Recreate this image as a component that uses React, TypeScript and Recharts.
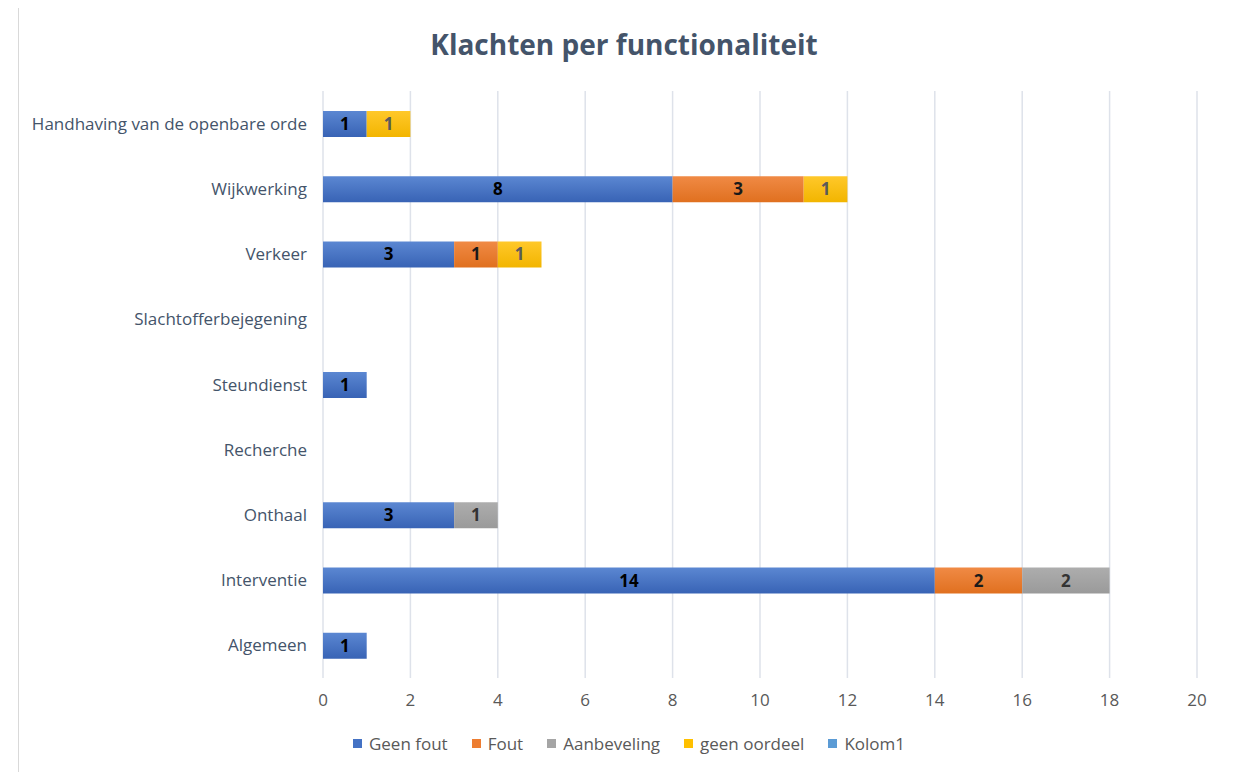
import React from "react";
import { BarChart, Bar, XAxis, YAxis, CartesianGrid, Legend, LabelList } from "recharts";

const categories = [
  "Handhaving van de openbare orde",
  "Wijkwerking",
  "Verkeer",
  "Slachtofferbejegening",
  "Steundienst",
  "Recherche",
  "Onthaal",
  "Interventie",
  "Algemeen",
];
const geenFout = [1, 8, 3, null, 1, null, 3, 14, 1];
const fout = [null, 3, 1, null, null, null, null, 2, null];
const aanbeveling = [null, null, null, null, null, null, 1, 2, null];
const geenOordeel = [1, 1, 1, null, null, null, null, null, null];
const kolom1 = [null, null, null, null, null, null, null, null, null];
const xTicks = [0, 2, 4, 6, 8, 10, 12, 14, 16, 18, 20];

const data = categories.map((name, i) => ({
  name,
  geenFout: geenFout[i],
  fout: fout[i],
  aanbeveling: aanbeveling[i],
  geenOordeel: geenOordeel[i],
  kolom1: kolom1[i],
}));

const series = [
  { key: "geenFout", name: "Geen fout", color: "#4472C4", top: "#5B87D2", bottom: "#3863B5", label: "#000000" },
  { key: "fout", name: "Fout", color: "#ED7D31", top: "#F08A45", bottom: "#E0701F", label: "#1a1a1a" },
  { key: "aanbeveling", name: "Aanbeveling", color: "#A5A5A5", top: "#ADADAD", bottom: "#9A9A9A", label: "#333333" },
  { key: "geenOordeel", name: "geen oordeel", color: "#FFC000", top: "#FFC82A", bottom: "#F2B500", label: "#5a5a5a" },
  { key: "kolom1", name: "Kolom1", color: "#5B9BD5", top: "#5B9BD5", bottom: "#5B9BD5", label: "#000" },
];

const FONT = "'Open Sans', 'DejaVu Sans', sans-serif";

const makeLabel = (color: string) => (props: any) => {
  const { x, y, width, height, value } = props;
  if (value === null || value === undefined || value === 0) return null;
  return (
    <text
      x={x + width / 2}
      y={y + height / 2}
      dy={6}
      textAnchor="middle"
      fill={color}
      fontSize={17}
      fontWeight={700}
      fontFamily={FONT}
    >
      {value}
    </text>
  );
};

const LegendContent = () => (
  <div
    style={{
      display: "flex",
      justifyContent: "center",
      alignItems: "center",
      fontFamily: FONT,
      fontSize: 17,
      color: "#595959",
      gap: 24,
      paddingLeft: 42,
    }}
  >
    {series.map((s) => (
      <div key={s.key} style={{ display: "flex", alignItems: "center" }}>
        <span style={{ display: "inline-block", width: 9, height: 9, background: s.color, marginRight: 7 }} />
        <span>{s.name}</span>
      </div>
    ))}
  </div>
);

export default function App() {
  return (
    <div
      style={{
        position: "relative",
        width: 1210,
        height: 766,
        border: "1px solid #D9D9D9",
        marginLeft: 10,
        marginTop: -2,
        background: "#fff",
      }}
    >
      <div
        style={{
          position: "absolute",
          top: 18,
          left: 0,
          width: "100%",
          textAlign: "center",
          fontFamily: FONT,
          fontWeight: 700,
          fontSize: 28,
          color: "#44546A",
        }}
      >
        Klachten per functionaliteit
      </div>
      <div style={{ position: "absolute", left: 0, top: 0 }}>
        <BarChart
          width={1210}
          height={766}
          data={data}
          layout="vertical"
          margin={{ top: 84, right: 32, bottom: 19, left: 0 }}
          barSize={26}
        >
          <defs>
            {series.map((s) => (
              <linearGradient key={s.key} id={`g-${s.key}`} x1="0" y1="0" x2="0" y2="1">
                <stop offset="0%" stopColor={s.top} />
                <stop offset="100%" stopColor={s.bottom} />
              </linearGradient>
            ))}
          </defs>
          <CartesianGrid horizontal={false} stroke="#DEE2EA" strokeWidth={1.5} />
          <XAxis
            type="number"
            domain={[0, 20]}
            ticks={xTicks}
            axisLine={false}
            tickLine={false}
            tick={{ fill: "#595959", fontSize: 17, fontFamily: FONT }}
            tickMargin={10}
            height={36}
          />
          <YAxis
            type="category"
            dataKey="name"
            width={304}
            axisLine={false}
            tickLine={false}
            tick={{ fill: "#44546A", fontSize: 17, fontFamily: FONT }}
            tickMargin={10}
          />
          <Legend
            verticalAlign="bottom"
            height={40}
            content={<LegendContent />}
            wrapperStyle={{ top: 725, bottom: "auto" }}
          />
          {series.map((s) => (
            <Bar
              key={s.key}
              dataKey={s.key}
              name={s.name}
              stackId="a"
              fill={`url(#g-${s.key})`}
              isAnimationActive={false}
            >
              <LabelList dataKey={s.key} content={makeLabel(s.label)} />
            </Bar>
          ))}
        </BarChart>
      </div>
    </div>
  );
}
